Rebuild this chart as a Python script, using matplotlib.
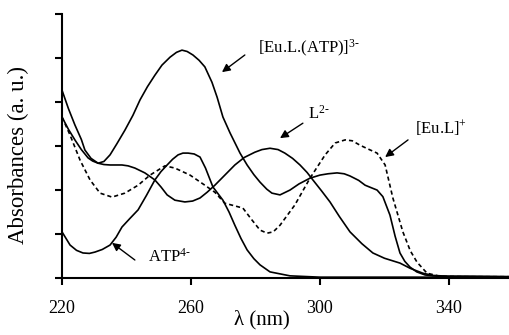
import matplotlib
matplotlib.use("Agg")
import matplotlib.pyplot as plt

plt.rcParams['font.family'] = ['Liberation Serif', 'DejaVu Serif']
plt.rcParams['mathtext.fontset'] = 'custom'
plt.rcParams['mathtext.rm'] = 'Liberation Serif'
plt.rcParams['mathtext.it'] = 'Liberation Serif:italic'

# [Eu.L.(ATP)]3-
wl_euatp = [220, 222, 224, 226, 227.1, 229, 231.2, 233, 234.9, 237, 239.5, 242, 244.2, 246.5, 248.8,
            251, 253.5, 255.5, 257.2, 258.8, 260.6, 262.5, 264.3, 266.5, 268.1, 269.9, 272.1, 275.2,
            277.4, 279.5, 281.4, 283.5, 285.1, 287.6, 290.7, 293.5, 296.9, 300, 302.5, 305.3, 307.5,
            309.3, 312, 314, 316, 317.7, 319.5, 321.7, 323.3, 324.8, 326.3, 327.9, 330, 332.6, 335,
            337.2, 345, 360]
ab_euatp = [4.27, 3.85, 3.48, 3.15, 2.91, 2.72, 2.61, 2.65, 2.80, 3.05, 3.36, 3.70, 4.05, 4.35, 4.61,
            4.84, 5.02, 5.13, 5.18, 5.15, 5.07, 4.95, 4.80, 4.45, 4.11, 3.66, 3.30, 2.84,
            2.57, 2.35, 2.18, 2.02, 1.93, 1.89, 2.00, 2.14, 2.27, 2.34, 2.37, 2.39, 2.37,
            2.32, 2.22, 2.11, 2.05, 2.00, 1.85, 1.43, 0.95, 0.57, 0.38, 0.25, 0.14, 0.07, 0.05,
            0.04, 0.04, 0.03]

# L2-
wl_l = [220, 222, 224, 226, 228.1, 229.5, 231.2, 233, 234.9, 236.8, 238.6, 240.5, 242.6, 245.7,
        248.8, 250.7, 252.6, 255, 258.1, 260.5, 262.8, 265, 267.4, 270.5, 273.6, 276.5, 279.8, 282,
        284.5, 287, 289.1, 291.5, 293.8, 296, 297.8, 300.5, 303.1, 306, 309.3, 313, 316.4, 320,
        324.8, 328, 331.9, 335, 340, 360]
ab_l = [3.66, 3.38, 3.14, 2.92, 2.73, 2.66, 2.61, 2.58, 2.57, 2.57, 2.57, 2.55, 2.50, 2.39,
        2.23, 2.07, 1.89, 1.77, 1.73, 1.75, 1.82, 1.95, 2.11, 2.34, 2.57, 2.74, 2.86, 2.92,
        2.95, 2.92, 2.84, 2.72, 2.57, 2.40, 2.23, 1.98, 1.73, 1.40, 1.05, 0.78, 0.57, 0.45,
        0.34, 0.22, 0.11, 0.06, 0.04, 0.03]

# [Eu.L]+
wl_eul = [220, 222.5, 225.6, 228.7, 231.8, 235.5, 239.5, 243.6, 247.3, 251.9, 255, 259.7, 264.3,
          267.4, 270.5, 273.6, 276.1, 278.9, 281.4, 283.6, 285.5, 287.6, 292.2, 296.9, 301.6, 304.7,
          307.8, 310, 312.4, 315, 317.7, 320.2, 322.6, 325.7, 328, 330.1, 333.2, 337.2, 345, 360]
ab_eul = [3.66, 3.25, 2.68, 2.23, 1.93, 1.84, 1.93, 2.11, 2.34, 2.55, 2.50, 2.34, 2.11,
          1.95, 1.70, 1.64, 1.59, 1.32, 1.09, 1.02, 1.05, 1.20, 1.66, 2.27, 2.80, 3.07,
          3.14, 3.12, 3.02, 2.93, 2.84, 2.57, 1.82, 1.05, 0.62, 0.36, 0.11, 0.04, 0.03, 0.03]

# ATP4-
wl_atp = [220, 222.5, 224.5, 226.5, 228.5, 230.2, 232.5, 234.9, 236.8, 238.6, 241, 243.6, 246.2,
          248.8, 250.7, 252.6, 254.3, 256, 257.5, 259.1, 261, 262.8, 264.5, 266.8, 269.9, 271.8,
          273.6, 275.5, 277.4, 279.5, 281.4, 284.5, 290.7, 300, 320, 360]
ab_atp = [1.05, 0.75, 0.63, 0.57, 0.56, 0.59, 0.65, 0.75, 0.93, 1.16, 1.35, 1.55, 1.88,
          2.23, 2.42, 2.57, 2.70, 2.80, 2.84, 2.84, 2.82, 2.75, 2.50, 2.07, 1.77, 1.50,
          1.20, 0.90, 0.64, 0.44, 0.30, 0.14, 0.05, 0.02, 0.02, 0.02]

fig = plt.figure(figsize=(5.09, 3.35), dpi=100)
ax = fig.add_axes([0.1218, 0.170, 0.887, 0.788])

lw = 1.2
ax.plot(wl_euatp, ab_euatp, color='black', lw=lw)
ax.plot(wl_l, ab_l, color='black', lw=lw)
ax.plot(wl_eul, ab_eul, color='black', lw=lw, ls=(0, (2.5, 1.8)))
ax.plot(wl_atp, ab_atp, color='black', lw=lw)

ax.set_xlim(220, 360)
ax.set_ylim(0, 6)
ax.set_xticks([220, 260, 300, 340])
ax.set_yticks(range(7))
ax.set_yticklabels([])
for s in ['top', 'right']:
    ax.spines[s].set_visible(False)
for s in ['left', 'bottom']:
    ax.spines[s].set_linewidth(1.5)
ax.tick_params(axis='both', direction='out', length=5, width=1.5, labelsize=13)
ax.tick_params(axis='x', pad=11)

ax.set_xlabel('λ (nm)', fontsize=15)
ax.xaxis.set_label_coords(0.443, -0.122)
ax.set_ylabel('Absorbances (a. u.)', fontsize=16.5)
ax.yaxis.set_label_coords(-0.072, 0.466)

arrow = dict(arrowstyle='-|>', color='black', lw=1.0, mutation_scale=12, shrinkA=0, shrinkB=0)

ax.text(280.8, 5.23, r'[Eu.L.(ATP)]$^{3\text{-}}$', fontsize=12, va='center', ha='left')
ax.annotate('', xy=(269.6, 4.68), xytext=(276.7, 5.07), arrowprops=arrow)

ax.text(296.3, 3.73, r'L$^{2\text{-}}$', fontsize=12, va='center', ha='left')
ax.annotate('', xy=(287.6, 3.18), xytext=(294.7, 3.52), arrowprops=arrow)

ax.text(329.5, 3.41, r'[Eu.L]$^{+}$', fontsize=12, va='center', ha='left')
ax.annotate('', xy=(320.2, 2.75), xytext=(327.3, 3.14), arrowprops=arrow)

ax.text(246.7, 0.48, r'ATP$^{4\text{-}}$', fontsize=12, va='center', ha='left')
ax.annotate('', xy=(235.5, 0.80), xytext=(242.6, 0.41), arrowprops=arrow)

fig.savefig('out.png', dpi=100)
